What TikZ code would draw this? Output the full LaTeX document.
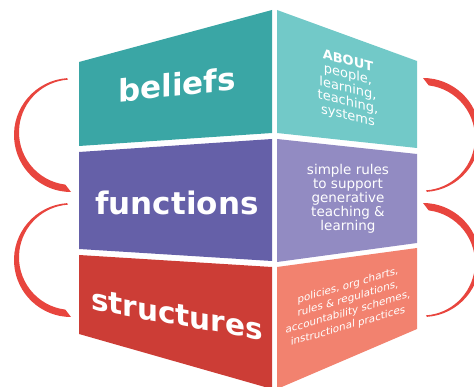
\documentclass[tikz,border=0pt]{standalone}
\usepackage{fontspec}
\setmainfont{DejaVu Sans}
\usepackage{xcolor}
\usepackage{tikz}
\usetikzlibrary{calc}
\definecolor{BeliefDark}{RGB}{58,166,165}
\definecolor{BeliefLight}{RGB}{114,201,200}
\definecolor{FuncDark}{RGB}{101,96,168}
\definecolor{FuncLight}{RGB}{146,139,194}
\definecolor{StructDark}{RGB}{204,61,54}
\definecolor{StructLight}{RGB}{242,130,111}
\definecolor{ArcRed}{RGB}{232,69,62}

\begin{document}
\begin{tikzpicture}[x=1pt,y=-1pt]
        % Style cho chữ lớn và chữ bên phải
        \tikzstyle{bigword} = [
            text=white,
            font=\fontsize{31}{31}\selectfont\bfseries,
            anchor=base,
            inner sep=0pt
        ]
        \tikzstyle{sidetext} = [
            text=white,
            align=center,
            inner sep=0pt,
            font=\fontsize{13}{13.7}\selectfont
        ]
        \tikzstyle{swoosh} = [fill=ArcRed]

        \useasboundingbox (0,0) rectangle (474,387);

        % Mặt trái của khối
        \fill[BeliefDark] (79,62) -- (272,10) -- (272,133) -- (79,146) -- cycle;
        \fill[FuncDark] (79,152) -- (272,139) -- (272,261) -- (79,249) -- cycle;
        \fill[StructDark] (79,255) -- (272,267) -- (272,389) -- (79,334) -- cycle;

        % Mặt phải của khối
        \fill[BeliefLight] (277,10) -- (417,61) -- (417,148) -- (277,133) -- cycle;
        \fill[FuncLight] (277,139) -- (417,154) -- (417,243) -- (277,262) -- cycle;
        \fill[StructLight] (277,267) -- (417,248) -- (417,329) -- (277,389) -- cycle;

        % Các vòng cung đỏ hai bên
        \foreach \cy in {135,260} {
            \fill[swoosh] ($(71,\cy)+(266:57)$) arc[start angle=266, end angle=90, radius=57]
                -- ($(71.75,\cy-2.75)+(97:52.75)$) arc[start angle=97, end angle=266, radius=52.75] -- cycle;
            \fill[swoosh] ($(423,\cy)+(86:57)$) arc[start angle=86, end angle=-90, radius=57]
                -- ($(422.25,\cy+2.75)+(-83:52.75)$) arc[start angle=-83, end angle=86, radius=52.75] -- cycle;
        }

        % Chữ trên mặt trái
        \node[bigword, yslant=0.105] (beliefs) at (177,96) {beliefs};
        \node[bigword] (functions) at (177,215) {functions};
        \node[bigword, font=\fontsize{29.5}{29.5}\selectfont\bfseries, yslant=-0.176] (structures) at (177,325) {structures};

        % Chữ trên mặt phải
        \node[sidetext, yslant=-0.25] (about) at (348,89) {{\bfseries ABOUT}\\people,\\learning,\\teaching,\\systems};
        \node[sidetext, font=\fontsize{13.5}{14}\selectfont] (rules) at (348,199) {simple rules\\to support\\generative\\teaching \&\\learning};
        \node[sidetext, font=\fontsize{10.3}{13.5}\selectfont, yslant=0.29] (policies) at (348,306) {policies, org charts,\\rules \& regulations,\\accountability schemes,\\instructional practices};
    \end{tikzpicture}
\end{document}
